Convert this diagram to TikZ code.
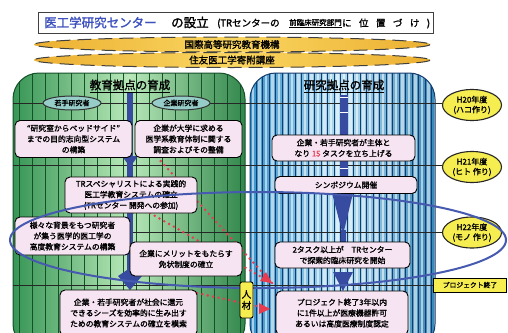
\documentclass[tikz,border=0pt]{standalone}
\usepackage{fontspec}
\setmainfont{Noto Sans CJK JP}[FakeBold=1.6]
\usetikzlibrary{shapes.geometric,arrows.meta}
\definecolor{gold}{RGB}{236,176,50}
\definecolor{goldlight}{RGB}{250,214,96}
\definecolor{greenD}{RGB}{55,150,85}
\definecolor{greenL}{RGB}{185,232,185}
\definecolor{greenline}{RGB}{20,80,40}
\definecolor{blueP}{RGB}{60,150,205}
\definecolor{blueL}{RGB}{180,222,242}
\definecolor{blueline}{RGB}{20,60,110}
\definecolor{pinkbox}{RGB}{246,228,242}
\definecolor{tealell}{RGB}{150,205,200}
\definecolor{yel}{RGB}{246,238,80}
\definecolor{ellblue}{RGB}{70,90,175}
\definecolor{barblue}{RGB}{55,75,160}
\definecolor{redd}{RGB}{232,60,80}
\definecolor{titleblue}{RGB}{60,80,190}
\begin{document}
\begin{tikzpicture}[x=1pt,y=-1pt,
  box/.style={draw=black, line width=0.9pt, rounded corners=5pt, fill=pinkbox, align=center, inner sep=1pt, font=\fontsize{7.8}{10.8}\selectfont},
  band/.style={ellipse, fill=gold, minimum width=396pt, minimum height=15pt, inner sep=0pt, font=\fontsize{9.5}{10}\selectfont},
  teal/.style={ellipse, fill=tealell, draw=black!80, line width=1pt, minimum width=58pt, minimum height=14pt, inner sep=0pt, font=\fontsize{7}{7}\selectfont},
  yoval/.style={ellipse, fill=yel, draw=black!85, line width=1.1pt, minimum width=59pt, minimum height=31pt, inner sep=0pt, align=center, font=\fontsize{8}{10}\selectfont},
  hline/.style={draw=black!85, line width=0.9pt},
  reddots/.style={draw=redd, line width=2.8pt, dash pattern=on 0pt off 5.5pt, line cap=round},
  hdr/.style={font=\fontsize{11.5}{12}\selectfont}
]
\useasboundingbox (0,0) rectangle (508,332);
\fill[white] (0,0) rectangle (508,332);

% ---- title
\node[draw=black!75, line width=1pt, fill=white, minimum width=395pt, minimum height=21pt, anchor=north west, inner sep=0pt] (tbox) at (38,12) {};
\node[anchor=west, text=titleblue, font=\fontsize{12.5}{14}\selectfont, inner sep=0pt] (t1) at (44,22.5) {医工学研究センター};
\node[anchor=west, font=\fontsize{12.5}{14}\selectfont, inner sep=0pt] (t2) at (171,22.5) {の設立};
\node[anchor=west, font=\fontsize{9.5}{10}\selectfont, inner sep=0pt] (t3) at (217,23.5) {(TRセンターの};
\node[anchor=west, font=\fontsize{7.5}{10}\selectfont, inner sep=0pt] (t4) at (289,23.5) {\underline{前臨床研究部門}};
\node[anchor=west, font=\fontsize{9.5}{10}\selectfont, inner sep=0pt] (t5) at (t4.east) {\makebox[88pt][s]{に\hfil 位\hfil 置\hfil づ\hfil け\hfil )}};

% ---- bands
\node[band, shading=axis, left color=gold, right color=gold, middle color=goldlight] (band1) at (232,44.5) {国際高等研究教育機構};
\draw[black!75, line width=1pt, dash pattern=on 14pt off 7pt] (band1.center) ellipse [x radius=198, y radius=7.5];
\node[band, shading=axis, left color=gold, right color=gold, middle color=goldlight] (band2) at (232,60) {住友医工学寄附講座};
\draw[black!75, line width=1pt, dash pattern=on 14pt off 7pt] (band2.center) ellipse [x radius=198, y radius=7.5];

% ---- left panel
\begin{scope}
\clip[rounded corners=26pt] (13,73) rectangle (245,350);
\shade[left color=greenD, right color=greenD!90!black, middle color=greenL] (13,73) rectangle (245,350);
\foreach \x in {19,32,...,245} \draw[greenline, line width=0.8pt] (\x,73) -- (\x,350);
\end{scope}
\draw[greenline, line width=1pt, rounded corners=26pt] (13,73) rectangle (245,350);

% ---- right panel
\begin{scope}
\clip[rounded corners=26pt] (250,73) rectangle (435,350);
\shade[left color=blueP, right color=blueP!90!black, middle color=blueL] (250,73) rectangle (435,350);
\foreach \x in {253,259.5,...,435} \draw[white, opacity=0.55, line width=2.2pt] (\x,73) -- (\x,350);
\foreach \x in {256.2,262.7,...,435} \draw[blueline, line width=0.6pt] (\x,73) -- (\x,350);
\end{scope}
\draw[blueline, line width=1pt, rounded corners=26pt] (250,73) rectangle (435,350);

% ---- headers
\node[hdr] (hdrL) at (130,86) {\underline{教育拠点の育成}};
\node[hdr] (hdrR) at (344,86) {\underline{研究拠点の育成}};

% ---- year ovals
\node[yoval] (h20) at (472,105) {H20年度\\(ハコ作り)};
\node[yoval] (h21) at (472,167) {H21年度\\(ヒト 作り)};
\node[yoval] (h22) at (472,232.5) {H22年度\\(モノ 作り)};
\coordinate (pend) at (470,285);

% ---- horizontal lines
\coordinate (l20) at (13,103);
\coordinate (l21) at (13,165);
\coordinate (l22) at (13,232.5);
\coordinate (lend) at (13,285);
\draw[hline] (l20) -- (h20.west |- l20);
\draw[hline] (l21) -- (h21.west |- l21);
\draw[hline] (l22) -- (h22.west |- l22);
\draw[hline] (lend) -- (434,285);

% ---- red dotted arrows (behind boxes)
\coordinate (ra) at (157,157);
\coordinate (rc) at (150,213);
\coordinate (rb) at (197,293);
\coordinate (raend) at (272,283);
\coordinate (rbend) at (270,309);
\draw[reddots] (ra) -- (raend);
\draw[reddots] (rc) -- (raend);
\draw[reddots] (rb) -- (rbend);
\fill[redd] (raend) -- ++(-12,-2) -- ++(6,-9) -- cycle;
\fill[redd] (rbend) -- ++(-11,-6) -- ++(0,11) -- cycle;

% ---- left central connector
\coordinate (lb0) at (130,93);
\coordinate (lb1) at (130,286);
\draw[barblue, line width=6.5pt] (lb0) -- (lb1);
\fill[barblue] (122,156) -- (138,156) -- (130,167) -- cycle;
\fill[barblue] (125,203) -- (141,203) -- (133,214) -- cycle;
\fill[barblue] (118,276) -- (130,268) -- (142,276) -- (130,290) -- cycle;

% ---- right central connector
\coordinate (rb0) at (344,95);
\coordinate (rb1) at (344,178);
\draw[barblue, line width=8pt] (rb0) -- (rb1);
\draw[white, line width=1pt] (340,97) -- (348,97) (340,112) -- (348,112) (340,168) -- (348,168);
\fill[barblue] (332,193) -- (353,193) -- (343,235) -- cycle;
\draw[barblue, line width=5pt] (343,230) -- (343,244);
\fill[barblue] (333,272) -- (353,272) -- (343,291) -- cycle;

% ---- small ellipses
\node[teal] (wak) at (72,103) {若手研究者};
\node[teal] (kig) at (181,103) {企業研究者};

% ---- left boxes
\node[box, minimum width=117pt, minimum height=37pt] (b1) at (73.5,139) {“研究室からベッドサイド”\\までの目的志向型システム\\の構築};
\node[box, minimum width=107pt, minimum height=37pt] (b2) at (188.5,139) {企業が大学に求める\\医学系教育体制に関する\\調査およびその整備};
\node[box, minimum width=132pt, minimum height=36pt] (b3) at (131,195) {TRスペシャリストによる実践的\\医工学教育システムの確立\\(TRセンター 開発への参加)};
\node[box, minimum width=115pt, minimum height=38pt] (b4) at (72.5,236) {様々な背景をもつ研究者\\が集う医学的医工学の\\高度教育システムの構築};
\node[box, minimum width=112pt, minimum height=34pt] (b5) at (186,259) {企業にメリットをもたらす\\免状制度の確立};
\node[box, minimum width=137pt, minimum height=46pt] (b6) at (128.5,313) {企業・若手研究者が社会に還元\\できるシーズを効率的に生み出す\\ための教育システムの確立を模索};

% ---- right boxes
\node[box, minimum width=143pt, minimum height=26pt] (r1) at (343.5,148) {企業・若手研究者が主体と\\なり {\color{redd}15} タスクを立ち上げる};
\node[box, minimum width=142pt, minimum height=17pt] (r2) at (346,185) {シンポジウム開催};
\node[box, minimum width=135pt, minimum height=26pt] (r3) at (342.5,255) {2タスク以上が　TRセンター\\で探索的臨床研究を開始};
\node[box, minimum width=132pt, minimum height=44pt] (r4) at (342,313) {プロジェクト終了3年以内\\に1件以上が医療機器許可\\あるいは高度医療制度認定};

% ---- big blue ellipse
\draw[ellblue, line width=2pt] (258,240) ellipse [x radius=248, y radius=48];

% ---- jinzai and project end label
\node[draw=black, line width=0.9pt, fill=yel, rounded corners=2pt, minimum width=13pt, minimum height=36pt, inner sep=0pt, align=center, font=\fontsize{9.5}{11}\selectfont] (jin) at (246.5,300) {人\\材};
\node[draw=black, line width=0.9pt, fill=yel, minimum width=73pt, minimum height=14pt, inner sep=0pt, font=\fontsize{6.8}{7}\selectfont] (pendlabel) at (pend) {プロジェクト終了};
\end{tikzpicture}
\end{document}
